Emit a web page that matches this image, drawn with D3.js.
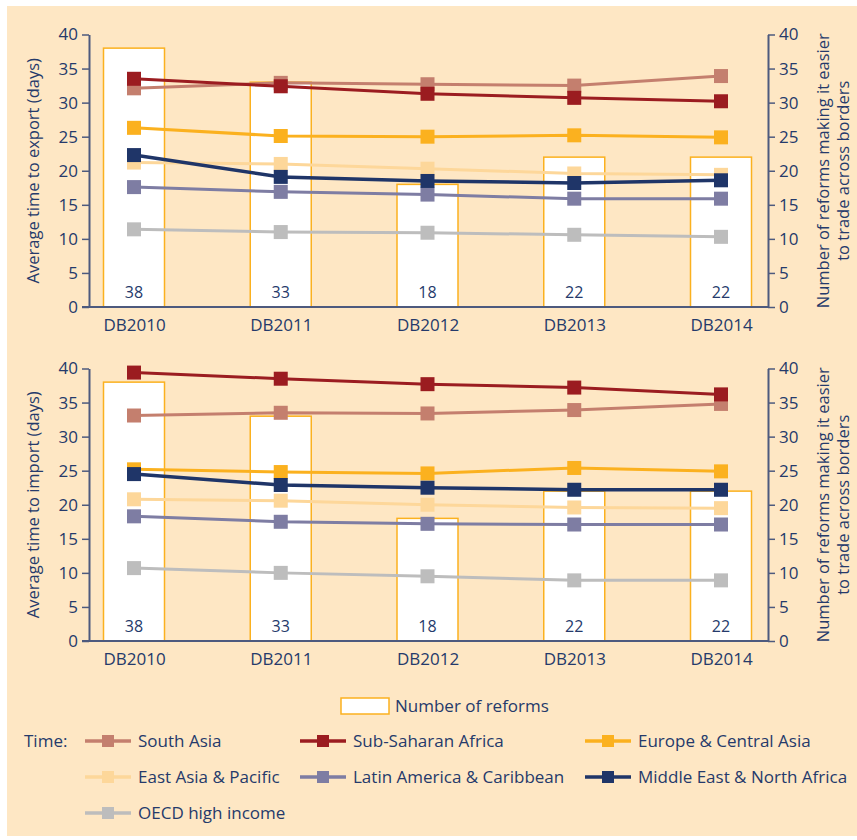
<!DOCTYPE html>
<html>
<head>
<meta charset="utf-8">
<script src="https://cdn.jsdelivr.net/npm/d3@7"></script>
<style>
  body { margin: 0; background: #fff; }
  text { font-family: 'Open Sans', sans-serif; fill: #253a6b; }
</style>
</head>
<body>
<div id="main"></div>
<script>
/*********************************************************
 * Data
 *********************************************************/
const years = ['DB2010', 'DB2011', 'DB2012', 'DB2013', 'DB2014'];
const reforms = [38, 33, 18, 22, 22];
const regions = [
  'South Asia',
  'Sub-Saharan Africa',
  'Europe & Central Asia',
  'East Asia & Pacific',
  'Latin America & Caribbean',
  'Middle East & North Africa',
  'OECD high income'
];
// days, same order as regions
const exportDays = [
  [32.1, 32.9, 32.7, 32.5, 33.9],
  [33.5, 32.4, 31.3, 30.7, 30.2],
  [26.3, 25.1, 25.0, 25.2, 24.9],
  [21.2, 21.0, 20.3, 19.6, 19.4],
  [17.6, 16.9, 16.5, 15.9, 15.9],
  [22.3, 19.1, 18.5, 18.2, 18.6],
  [11.4, 11.0, 10.9, 10.6, 10.3]
];
const importDays = [
  [33.1, 33.5, 33.4, 33.9, 34.8],
  [39.4, 38.5, 37.7, 37.2, 36.2],
  [25.2, 24.8, 24.6, 25.4, 24.9],
  [20.8, 20.6, 20.0, 19.6, 19.5],
  [18.3, 17.5, 17.2, 17.1, 17.1],
  [24.5, 22.9, 22.5, 22.2, 22.2],
  [10.7, 10.0, 9.5, 8.9, 8.9]
];
const yTicks = [0, 5, 10, 15, 20, 25, 30, 35, 40];

/*********************************************************
 * Layout
 *********************************************************/
const svgWidth = 857;
const svgHeight = 840;
const navy = '#253a6b';
const axisColor = '#4d5a7e';
const colors = ['#c47f6e', '#9b1c20', '#fbb11f', '#fdd79a', '#7e7da3', '#1f3568', '#bdbdbd'];
// draw order (bottom first)
const drawOrder = [6, 3, 4, 2, 5, 0, 1];

const svg = d3
  .select('#main')
  .append('svg')
  .attr('width', svgWidth)
  .attr('height', svgHeight);

svg
  .append('rect')
  .attr('x', 7)
  .attr('y', 6)
  .attr('width', svgWidth - 7)
  .attr('height', 830)
  .attr('fill', '#fee7c4');

const axisLeftX = 89;
const axisRightX = 768;
const x = d3.scalePoint().domain(years).range([134, 721]);
const barWidth = 61;

function drawPanel(top, bottom, values, yTitle) {
  const y = d3.scaleLinear().domain([0, 40]).range([bottom, top]);
  const g = svg.append('g');

  // bars for number of reforms
  g.selectAll('.bar')
    .data(reforms)
    .enter()
    .append('rect')
    .attr('class', 'bar')
    .attr('x', (d, i) => x(years[i]) - barWidth / 2)
    .attr('y', d => y(d))
    .attr('width', barWidth)
    .attr('height', d => y(0) - y(d))
    .attr('fill', '#fff')
    .attr('stroke', '#fbb11f')
    .attr('stroke-width', 1.5);

  g.selectAll('.barLabel')
    .data(reforms)
    .enter()
    .append('text')
    .attr('class', 'barLabel')
    .attr('x', (d, i) => x(years[i]))
    .attr('y', bottom - 9)
    .attr('text-anchor', 'middle')
    .style('font-size', '16px')
    .text(d => d);

  // lines
  const line = d3
    .line()
    .x((d, i) => x(years[i]))
    .y(d => y(d));

  drawOrder.forEach(k => {
    const s = g.append('g');
    s.append('path')
      .datum(values[k])
      .attr('d', line)
      .attr('fill', 'none')
      .attr('stroke', colors[k])
      .attr('stroke-width', k === 5 ? 3.5 : 3);
    s.selectAll('rect')
      .data(values[k])
      .enter()
      .append('rect')
      .attr('x', (d, i) => x(years[i]) - 7)
      .attr('y', d => y(d) - 7)
      .attr('width', 14)
      .attr('height', 14)
      .attr('fill', colors[k]);
  });

  // axes
  const left = g
    .append('g')
    .attr('transform', `translate(${axisLeftX},0)`)
    .call(d3.axisLeft(y).tickValues(yTicks).tickSize(7).tickSizeOuter(0).tickPadding(4));
  const right = g
    .append('g')
    .attr('transform', `translate(${axisRightX},0)`)
    .call(d3.axisRight(y).tickValues(yTicks).tickSize(7).tickSizeOuter(0).tickPadding(4));
  const xAxis = g
    .append('g')
    .attr('transform', `translate(0,${bottom})`)
    .call(d3.axisBottom(x).tickSize(0).tickPadding(12));
  xAxis.select('.domain').attr('d', `M${axisLeftX - 7},0H${axisRightX}`);

  [left, right, xAxis].forEach(a => {
    a.selectAll('.domain').attr('stroke', axisColor).attr('stroke-width', 2);
    a.selectAll('line').attr('stroke', axisColor).attr('stroke-width', 1.5);
    a.selectAll('text').style('font-size', '17px').attr('fill', navy).attr('font-family', null);
  });

  const mid = (top + bottom) / 2;
  g.append('text')
    .attr('transform', `translate(39,${mid}) rotate(-90)`)
    .attr('text-anchor', 'middle')
    .style('font-size', '16.5px')
    .text(yTitle);

  const rt = g
    .append('text')
    .attr('transform', `translate(829,${mid}) rotate(-90)`)
    .attr('text-anchor', 'middle')
    .style('font-size', '16.5px');
  rt.append('tspan').attr('x', 0).attr('dy', 0).text('Number of reforms making it easier');
  rt.append('tspan').attr('x', 0).attr('dy', 20).text('to trade across borders');
}

drawPanel(34.5, 307, exportDays, 'Average time to export (days)');
drawPanel(368.5, 641, importDays, 'Average time to import (days)');

/*********************************************************
 * Legend
 *********************************************************/
const legend = svg.append('g');
legend
  .append('rect')
  .attr('x', 341)
  .attr('y', 698)
  .attr('width', 48)
  .attr('height', 16)
  .attr('fill', '#fff')
  .attr('stroke', '#fbb11f')
  .attr('stroke-width', 1.5);
legend
  .append('text')
  .attr('x', 395)
  .attr('y', 712)
  .style('font-size', '17px')
  .text('Number of reforms');

legend
  .append('text')
  .attr('x', 24)
  .attr('y', 747)
  .style('font-size', '17px')
  .text('Time:');

const colX = [85, 300, 585];
const rowY = [741, 777, 813];
regions.forEach((name, k) => {
  const lx = colX[k % 3];
  const ly = rowY[Math.floor(k / 3)];
  const item = legend.append('g').attr('transform', `translate(${lx},${ly})`);
  item
    .append('line')
    .attr('x1', 0)
    .attr('x2', 46)
    .attr('y1', 0)
    .attr('y2', 0)
    .attr('stroke', colors[k])
    .attr('stroke-width', 3.5);
  item
    .append('rect')
    .attr('x', 17)
    .attr('y', -6)
    .attr('width', 12)
    .attr('height', 12)
    .attr('fill', colors[k]);
  item
    .append('text')
    .attr('x', 53)
    .attr('y', 6)
    .style('font-size', '17px')
    .text(name);
});
</script>
</body>
</html>
